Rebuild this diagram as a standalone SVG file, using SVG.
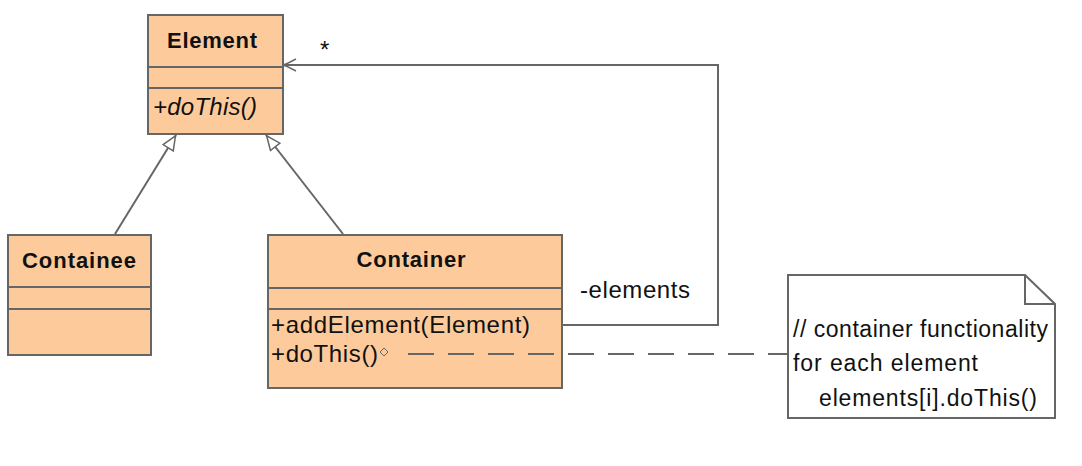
<svg xmlns="http://www.w3.org/2000/svg" width="1082" height="466" viewBox="0 0 1082 466">
<style>
.box{fill:#FDCB9B;stroke:#666;stroke-width:2}
.sep{stroke:#666;stroke-width:2}
.t{font-family:"Liberation Sans",Arial,sans-serif;fill:#111}
.b{font-weight:bold;font-size:22px}
.r{font-size:24px}
.n{font-size:23px}
.ln{fill:none;stroke:#666;stroke-width:2}
</style>
<defs>
<marker id="tri" markerUnits="userSpaceOnUse" viewBox="0 0 16 14" refX="16" refY="7" markerWidth="16" markerHeight="14" orient="auto">
<path d="M1,1 L15,7 L1,13 Z" fill="#fff" stroke="#666" stroke-width="1.5"/>
</marker>
<marker id="open" markerUnits="userSpaceOnUse" viewBox="0 0 14 14" refX="13" refY="7" markerWidth="14" markerHeight="14" orient="auto">
<path d="M1,1 L13,7 L1,13" fill="none" stroke="#666" stroke-width="1.5"/>
</marker>
</defs>
<rect width="1082" height="466" fill="#fff"/>
<g id="Element">
<rect class="box" x="148" y="15" width="135" height="119"/>
<line class="sep" x1="148" y1="67" x2="283" y2="67"/>
<line class="sep" x1="148" y1="88" x2="283" y2="88"/>
<text class="t b" x="212" y="48" text-anchor="middle" textLength="90">Element</text>
<text class="t r" x="153" y="115" font-style="italic" textLength="104">+doThis()</text>
</g>
<g id="Containee">
<rect class="box" x="8" y="235" width="143" height="120"/>
<line class="sep" x1="8" y1="287" x2="151" y2="287"/>
<line class="sep" x1="8" y1="309" x2="151" y2="309"/>
<text class="t b" x="79" y="268" text-anchor="middle" textLength="114">Containee</text>
</g>
<g id="Container">
<rect class="box" x="268" y="235" width="294" height="153"/>
<line class="sep" x1="268" y1="288" x2="562" y2="288"/>
<line class="sep" x1="268" y1="309" x2="562" y2="309"/>
<text class="t b" x="411" y="267" text-anchor="middle" textLength="109">Container</text>
<text class="t r" x="271" y="333" textLength="259">+addElement(Element)</text>
<text class="t r" x="271" y="362" textLength="107">+doThis()</text>
<polygon points="384,348 388,352 384,356 380,352" fill="none" stroke="#666" stroke-width="1"/>
</g>
<g id="Note">
<path d="M788,275 L1025,275 L1055,304 L1055,418 L788,418 Z" fill="#fff" stroke="#666" stroke-width="2"/>
<path d="M1025,275 L1025,304 L1055,304" fill="none" stroke="#666" stroke-width="2"/>
<text class="t n" x="793" y="337" textLength="255">// container functionality</text>
<text class="t n" x="793" y="371" textLength="185">for each element</text>
<text class="t n" x="819" y="406" textLength="218">elements[i].doThis()</text>
</g>
<g id="connectors">
<line class="ln" x1="115" y1="234" x2="176" y2="135" marker-end="url(#tri)"/>
<line class="ln" x1="343" y1="234" x2="266" y2="135" marker-end="url(#tri)"/>
<polyline class="ln" points="562,325 718,325 718,65 284,65" marker-end="url(#open)"/>
<circle cx="285" cy="65" r="1.5" fill="#666"/>
<text class="t r" x="320" y="58">*</text>
<text class="t r" x="580" y="298" textLength="110">-elements</text>
<line class="ln" x1="408" y1="354" x2="787" y2="354" stroke-dasharray="26 14"/>
</g>
</svg>
